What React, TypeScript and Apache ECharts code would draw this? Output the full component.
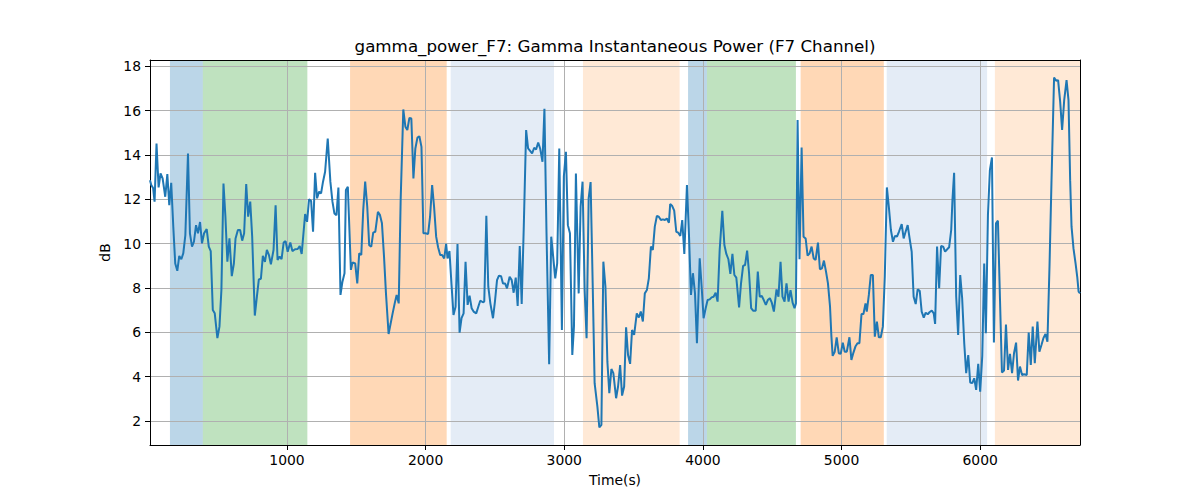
import React, { useEffect, useRef } from "react";
import * as echarts from "echarts";

const TITLE = "gamma_power_F7: Gamma Instantaneous Power (F7 Channel)";
const X_NAME = "Time(s)";
const Y_NAME = "dB";
const X_MIN = 12;
const X_MAX = 6720;
const Y_MIN = 0.91;
const Y_MAX = 18.28;

const times = [
  12, 21, 35, 45, 59, 74, 88, 103, 122, 137, 151, 165, 180, 194, 209, 223, 238, 252, 267, 286,
  300, 315, 329, 344, 358, 373, 387, 402, 421, 436, 450, 465, 479, 498, 513, 527, 542, 556, 570, 585,
  602, 617, 629, 646, 662, 677, 691, 706, 720, 735, 749, 768, 783, 797, 812, 826, 841, 855, 870, 884,
  903, 918, 932, 947, 961, 976, 990, 1005, 1024, 1039, 1058, 1077, 1092, 1106, 1121, 1131, 1145, 1159, 1174, 1188,
  1203, 1217, 1232, 1246, 1260, 1275, 1294, 1313, 1328, 1342, 1357, 1371,
  1386, 1400, 1415, 1425, 1439, 1461, 1473, 1492, 1507, 1521, 1536, 1550, 1564, 1579, 1593, 1608, 1622, 1637, 1656, 1671,
  1685, 1700, 1714, 1733, 1748, 1762, 1777, 1791, 1806, 1820, 1839, 1854, 1868, 1883, 1897, 1912, 1926, 1941, 1955, 1970,
  1984, 1999, 2018, 2032, 2047, 2061, 2076, 2090, 2105, 2119, 2134, 2148, 2158, 2172, 2187, 2201, 2216, 2230, 2245, 2259,
  2274, 2288, 2303, 2317, 2332, 2346, 2365, 2380, 2394, 2413, 2423, 2438, 2452, 2467, 2486, 2500, 2515, 2529, 2544, 2558,
  2573, 2587, 2606, 2621, 2635, 2650, 2664, 2679, 2693, 2708,
  2725, 2739, 2754, 2768, 2783, 2797, 2812, 2826, 2843, 2857, 2872, 2891, 2906, 2920, 2935, 2949, 2964, 2983, 2997, 3012,
  3026, 3041, 3058, 3070, 3084, 3104, 3118, 3132, 3147, 3161, 3176, 3190, 3205, 3219, 3239, 3253, 3268, 3282, 3297, 3311,
  3325, 3340, 3354, 3374, 3388, 3403, 3417, 3432, 3446, 3460, 3475, 3489, 3504, 3523, 3538, 3552, 3567, 3581, 3596, 3610,
  3625, 3639, 3653, 3668, 3682, 3697, 3711, 3726, 3740, 3755, 3764, 3779, 3793, 3808, 3822, 3837, 3851, 3866, 3885, 3900,
  3914, 3928, 3943, 3957, 3977, 3991,
  4005, 4020, 4034, 4049, 4063, 4077, 4092, 4106, 4121, 4140, 4155, 4169, 4184, 4198, 4213, 4227, 4241, 4261, 4275, 4290,
  4304, 4319, 4333, 4348, 4362, 4381, 4396, 4410, 4425, 4439, 4454, 4468, 4483, 4497, 4512, 4531, 4545, 4560, 4574, 4589,
  4603, 4618, 4632, 4647, 4661, 4671, 4683, 4697, 4712, 4726, 4741, 4755, 4770, 4784, 4799, 4813, 4830, 4844, 4859, 4873,
  4888, 4902, 4917, 4927, 4936, 4951, 4965, 4980, 4994, 5009, 5023, 5038, 5057, 5071, 5086, 5100, 5115, 5129, 5144, 5158,
  5173, 5182, 5197, 5211, 5226, 5240, 5255, 5269, 5283, 5298, 5312, 5327, 5342,
  5356, 5371, 5385, 5400, 5414, 5434, 5448, 5462, 5477, 5491, 5506, 5520, 5535, 5549, 5564, 5578, 5593, 5607, 5622, 5636,
  5651, 5665, 5675, 5689, 5704, 5718, 5733, 5747, 5762, 5776, 5791, 5800, 5812, 5827, 5841, 5856, 5870, 5885, 5899, 5914,
  5928, 5943, 5957, 5971, 5986, 6000, 6015, 6029, 6041, 6056, 6070, 6085, 6099, 6114, 6128, 6143, 6157, 6172, 6186, 6201,
  6215, 6230, 6244, 6259, 6273, 6287, 6302, 6316, 6336, 6350, 6365, 6379, 6394, 6413, 6427, 6442, 6456, 6471, 6485, 6500,
  6514, 6533, 6548, 6562, 6577, 6591, 6606, 6623, 6637, 6649, 6659, 6673, 6688, 6700, 6710, 6720,
];

const values = [
  12.86, 12.64, 12.49, 11.89, 14.51, 12.53, 13.16, 12.94, 12.11, 13.13, 11.73, 12.74, 10.76, 9.1, 8.77, 9.44, 9.29, 9.56, 10.38, 14.06,
  10.46, 9.86, 10.08, 10.83, 10.46, 10.97, 10.01, 10.46, 10.65, 9.86, 9.66, 7.0, 6.85, 5.73, 6.25, 7.9, 12.71, 11.21, 9.18, 10.23,
  8.53, 9.1, 10.23, 10.61, 10.61, 10.13, 10.46, 12.68, 11.21, 11.89, 10.31, 6.75, 7.6, 8.38, 8.41, 9.44, 9.17, 9.71, 9.48, 9.06,
  9.71, 11.73, 9.26, 9.41, 9.3, 10.04, 10.11, 9.63, 10.05, 9.66, 9.74, 9.75, 9.89, 9.53, 10.61, 11.33, 10.98, 11.99, 11.93, 10.53,
  13.19, 12.04, 12.34, 12.26, 12.79, 13.24, 14.74, 12.79, 11.89, 11.36, 11.28, 12.53,
  7.68, 8.28, 8.66, 12.41, 12.56, 8.81, 9.15, 9.1, 8.2, 9.56, 9.48, 11.51, 12.79, 11.66, 9.93, 9.86, 10.49, 10.53, 11.43, 11.28,
  10.91, 9.41, 7.75, 5.92, 6.4, 6.85, 7.3, 7.68, 7.3, 11.96, 16.05, 15.27, 15.12, 15.67, 15.64, 12.94, 14.29, 14.78, 14.84, 14.36,
  10.46, 10.46, 10.43, 11.21, 12.64, 11.66, 10.31, 9.83, 9.48, 9.48, 9.33, 9.98, 9.33, 9.66, 8.13, 6.78, 7.15, 9.98, 5.98, 6.63,
  6.85, 9.18, 7.23, 7.65, 7.08, 6.93, 6.85, 7.15, 7.42, 7.35, 7.38, 11.25, 8.05, 7.3, 6.63, 7.38, 8.35, 8.55, 8.53, 8.2,
  8.2, 7.98, 8.5, 8.35, 7.78, 8.46, 7.18, 9.89, 7.27, 10.76,
  15.12, 14.29, 14.18, 14.06, 14.32, 14.24, 14.56, 14.29, 13.69, 16.08, 10.46, 4.55, 10.31, 9.41, 8.43, 9.1, 14.29, 6.1, 13.03, 14.14,
  10.83, 10.46, 4.97, 6.25, 13.16, 7.75, 11.66, 12.79, 7.9, 5.73, 12.04, 12.77, 8.2, 3.7, 2.64, 1.7, 1.82, 9.18, 8.05, 4.67,
  3.25, 4.34, 4.15, 3.02, 3.55, 4.52, 3.14, 3.55, 6.22, 4.97, 4.57, 6.1, 5.88, 6.85, 6.66, 6.93, 6.48, 7.75, 7.9, 8.43,
  9.86, 9.71, 10.76, 11.24, 11.21, 11.06, 11.09, 11.06, 11.13, 10.94, 11.78, 11.69, 11.48, 10.53, 10.49, 10.34, 11.06, 9.53, 12.64, 10.31,
  7.68, 8.66, 7.75, 5.5, 9.33, 8.05,
  6.63, 7.08, 7.45, 7.48, 7.57, 7.6, 7.78, 7.38, 9.71, 11.48, 9.93, 9.53, 9.29, 8.63, 9.53, 8.58, 8.46, 7.12, 8.2, 8.99,
  9.03, 9.68, 8.66, 7.08, 6.97, 6.97, 8.73, 7.6, 7.63, 7.45, 7.23, 7.45, 7.53, 7.33, 6.93, 7.93, 7.6, 9.18, 7.6, 7.38,
  8.2, 7.38, 7.9, 7.33, 7.08, 7.3, 15.57, 9.29, 14.33, 10.31, 10.23, 9.45, 9.56, 9.86, 9.33, 9.26, 10.04, 8.84, 8.88, 9.23,
  8.73, 8.2, 7.15, 5.8, 4.93, 5.12, 5.77, 5.05, 5.02, 5.53, 5.12, 5.12, 5.77, 4.75, 5.08, 5.35, 5.5, 5.5, 6.82, 6.82,
  7.3, 6.93, 7.68, 8.58, 8.58, 5.8, 6.48, 5.77, 5.77, 6.25, 8.51, 12.53, 11.6,
  10.61, 10.08, 10.34, 10.31, 10.53, 10.88, 10.23, 10.53, 10.83, 10.23, 9.63, 7.6, 7.27, 7.93, 7.87, 6.93, 6.66, 6.88, 6.81, 6.91,
  6.97, 6.85, 6.37, 9.86, 7.98, 9.89, 9.86, 9.63, 9.74, 9.83, 10.61, 11.96, 13.19, 7.6, 5.88, 8.58, 7.53, 5.5, 4.15, 4.97,
  3.73, 3.7, 3.92, 3.4, 4.57, 3.32, 4.93, 9.1, 5.95, 11.28, 13.31, 13.88, 5.53, 10.91, 11.03, 7.45, 4.18, 4.27, 6.34, 4.3,
  5.02, 4.15, 5.05, 5.53, 3.82, 4.45, 4.07, 4.1, 4.07, 5.98, 4.52, 6.25, 4.6, 6.48, 5.12, 5.42, 5.73, 5.92, 5.57, 8.96,
  12.71, 17.49, 17.34, 17.37, 16.39, 15.12, 16.47, 17.37, 16.47, 12.86, 10.76, 9.78, 9.1, 8.5, 7.83, 7.75,
];

// Shaded intervals (start, end, colour)
const bandStarts = [156, 393, 1455, 2181, 3135, 3893, 4029, 4705, 5326, 6106];
const bandEnds = [393, 1147, 2152, 2926, 3832, 4029, 4671, 5305, 6050, 6720];
const bandColors = [
  "rgba(31,119,180,0.3)",
  "rgba(44,160,44,0.3)",
  "rgba(255,127,14,0.3)",
  "rgba(75,128,195,0.15)",
  "rgba(255,127,14,0.17)",
  "rgba(31,119,180,0.3)",
  "rgba(44,160,44,0.3)",
  "rgba(255,127,14,0.3)",
  "rgba(75,128,195,0.15)",
  "rgba(255,127,14,0.17)",
];

const FONT = "DejaVu Sans";

export default function App() {
  const ref = useRef<HTMLDivElement>(null);

  useEffect(() => {
    if (!ref.current) return;
    const chart = echarts.init(ref.current, null, { renderer: "svg" });
    const tickLabel = { fontFamily: FONT, fontSize: 13.9, color: "#000" };
    const axisLine = { show: true, onZero: false, lineStyle: { color: "#000", width: 1 } };
    const plain = (v: number) => String(v);
    chart.setOption({
      animation: false,
      backgroundColor: "#fff",
      title: {
        text: TITLE,
        left: 615,
        top: 37,
        textAlign: "center",
        padding: 0,
        textStyle: { fontFamily: FONT, fontSize: 16.7, fontWeight: "normal", color: "#000" },
      },
      grid: { left: 150, right: 120, top: 60, bottom: 55, containLabel: false },
      xAxis: [
        {
          type: "value",
          min: X_MIN,
          max: X_MAX,
          minInterval: 1000,
          maxInterval: 1000,
          z: 2,
          name: X_NAME,
          nameLocation: "middle",
          nameGap: 28,
          nameTextStyle: { fontFamily: FONT, fontSize: 13.9, color: "#000" },
          axisLine,
          axisTick: { show: true, length: 5, lineStyle: { color: "#000", width: 1 } },
          axisLabel: { ...tickLabel, margin: 8, showMinLabel: false, showMaxLabel: false, formatter: plain },
          splitLine: { show: true, lineStyle: { color: "#b0b0b0", width: 1 } },
        },
        {
          type: "value",
          position: "top",
          min: X_MIN,
          max: X_MAX,
          z: 2,
          axisLine,
          axisTick: { show: false },
          axisLabel: { show: false },
          splitLine: { show: false },
        },
      ],
      yAxis: [
        {
          type: "value",
          min: Y_MIN,
          max: Y_MAX,
          minInterval: 2,
          maxInterval: 2,
          z: 2,
          name: Y_NAME,
          nameLocation: "middle",
          nameGap: 34,
          nameTextStyle: { fontFamily: FONT, fontSize: 13.9, color: "#000" },
          axisLine,
          axisTick: { show: true, length: 5, lineStyle: { color: "#000", width: 1 } },
          axisLabel: { ...tickLabel, margin: 9, showMinLabel: false, showMaxLabel: false, formatter: plain },
          splitLine: { show: true, lineStyle: { color: "#b0b0b0", width: 1 } },
        },
        {
          type: "value",
          position: "right",
          min: Y_MIN,
          max: Y_MAX,
          z: 2,
          axisLine,
          axisTick: { show: false },
          axisLabel: { show: false },
          splitLine: { show: false },
        },
      ],
      series: [
        {
          type: "line",
          z: 1,
          data: [],
          silent: true,
          markArea: {
            silent: true,
            z: 1,
            label: { show: false },
            data: bandStarts.map((s, i) => [
              { xAxis: s, itemStyle: { color: bandColors[i] } },
              { xAxis: bandEnds[i] },
            ]),
          },
        },
        {
          type: "line",
          z: 3,
          data: times.map((t, i) => [t, values[i]]),
          showSymbol: false,
          symbol: "none",
          lineStyle: { color: "#1f77b4", width: 2 },
          itemStyle: { color: "#1f77b4" },
        },
      ],
    });
    return () => chart.dispose();
  }, []);

  return (
    <div
      ref={ref}
      style={{ position: "fixed", left: 0, top: 0, width: 1200, height: 500, background: "#fff" }}
    />
  );
}
